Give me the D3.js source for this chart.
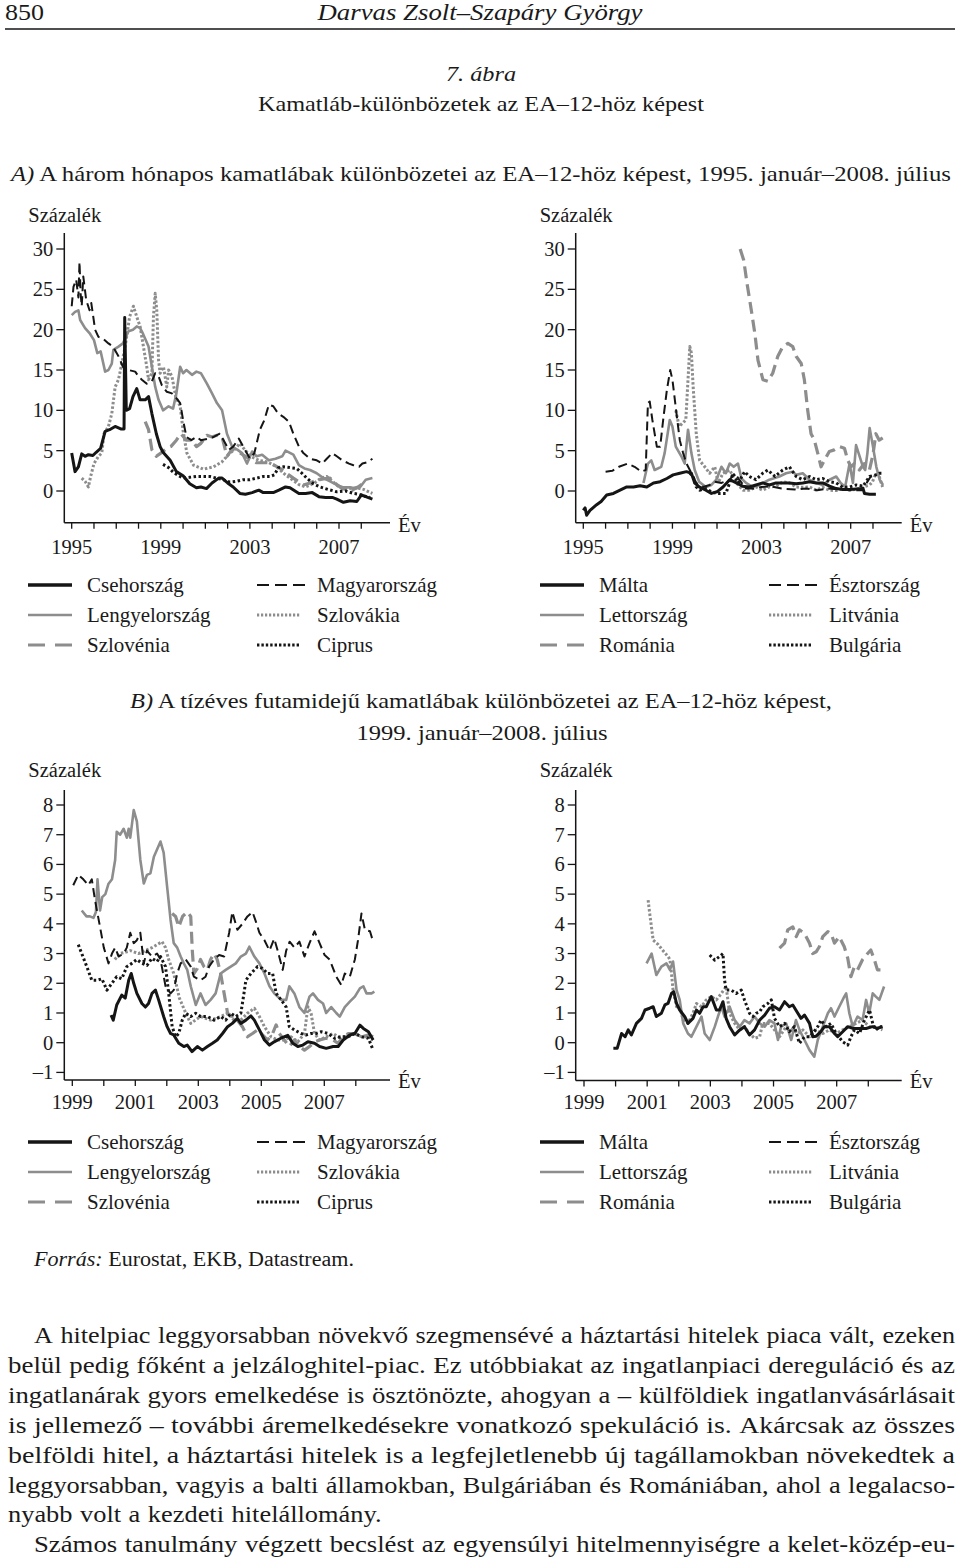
<!DOCTYPE html>
<html><head><meta charset="utf-8">
<script src="https://cdn.jsdelivr.net/npm/d3@7"></script>
<style>
body{margin:0;background:#fff}
svg{display:block}
text{font-family:"Liberation Serif","Times New Roman",serif;fill:#1a1a1a}
</style>
</head><body>
<svg id="c" width="960" height="1562"></svg>
<script>
// ---------- DATA (decimal year, percentage points) ----------
// A) 3-month rate differentials, left panel
const cz3m = [[1995.0,4.7],[1995.15,2.4],[1995.3,3.0],[1995.45,4.6],[1995.6,4.3],[1995.75,4.5],[1995.95,4.4],[1996.1,4.8],[1996.3,5.3],[1996.5,7.4],[1996.7,7.6],[1996.95,8.0],[1997.2,7.7],[1997.35,7.7],[1997.38,21.5],[1997.45,10.0],[1997.6,10.2],[1997.75,11.7],[1997.92,12.7],[1998.07,11.3],[1998.3,11.3],[1998.45,11.7],[1998.6,9.6],[1998.8,7.1],[1998.97,5.5],[1999.1,4.8],[1999.42,3.8],[1999.7,2.4],[2000.0,1.9],[2000.3,0.9],[2000.6,0.4],[2000.8,0.5],[2001.05,0.3],[2001.3,1.0],[2001.6,1.6],[2001.75,1.6],[2002.0,1.0],[2002.25,0.5],[2002.55,-0.3],[2002.8,-0.4],[2003.1,-0.2],[2003.4,0.1],[2003.6,-0.2],[2004.05,-0.2],[2004.3,0.1],[2004.6,0.5],[2004.8,0.4],[2005.2,-0.3],[2005.5,-0.3],[2005.8,-0.2],[2006.1,-0.7],[2006.4,-0.8],[2006.7,-0.8],[2006.9,-1.0],[2007.2,-1.4],[2007.5,-1.2],[2007.8,-1.3],[2008.0,-0.5],[2008.2,-0.7],[2008.5,-1.0]];
const hu3m = [[1995.0,22.9],[1995.08,25.3],[1995.2,26.2],[1995.3,24.0],[1995.35,28.4],[1995.4,24.5],[1995.45,22.9],[1995.52,26.6],[1995.65,23.7],[1995.8,22.4],[1995.88,23.3],[1996.05,20.0],[1996.2,19.1],[1996.4,18.9],[1996.65,18.3],[1996.85,17.9],[1997.1,16.7],[1997.3,15.4],[1997.55,15.0],[1997.85,14.8],[1998.0,14.2],[1998.15,13.8],[1998.37,13.3],[1998.6,13.6],[1998.75,14.6],[1998.9,14.2],[1999.05,13.1],[1999.27,12.3],[1999.5,12.1],[1999.65,11.7],[1999.87,10.9],[2000.0,8.8],[2000.15,6.7],[2000.37,6.3],[2000.6,6.7],[2000.8,6.3],[2001.15,6.5],[2001.37,6.7],[2001.65,7.1],[2001.9,5.9],[2002.05,5.1],[2002.25,5.5],[2002.5,6.5],[2002.7,5.5],[2003.0,4.0],[2003.2,4.7],[2003.45,7.6],[2003.65,8.8],[2003.85,10.7],[2004.05,10.5],[2004.27,9.6],[2004.5,9.2],[2004.75,8.6],[2004.95,7.1],[2005.2,5.5],[2005.4,4.7],[2005.7,4.0],[2006.0,3.8],[2006.25,3.4],[2006.45,4.0],[2006.7,4.7],[2006.9,4.3],[2007.15,3.8],[2007.45,3.4],[2007.65,3.2],[2007.9,3.0],[2008.05,3.4],[2008.3,3.6],[2008.5,4.0]];
const pl3m = [[1995.0,21.8],[1995.15,22.2],[1995.3,22.4],[1995.38,21.2],[1995.6,20.2],[1995.82,19.5],[1996.0,18.7],[1996.15,17.1],[1996.3,17.3],[1996.5,14.8],[1996.65,15.0],[1996.8,15.8],[1996.87,17.5],[1997.1,17.9],[1997.3,18.3],[1997.55,19.8],[1997.75,20.0],[1997.92,20.4],[1998.07,20.2],[1998.2,19.5],[1998.45,17.9],[1998.6,15.4],[1998.75,12.9],[1998.9,11.3],[1999.1,10.0],[1999.35,10.5],[1999.55,10.2],[1999.7,12.1],[1999.87,15.4],[2000.0,14.6],[2000.15,15.0],[2000.4,14.4],[2000.6,14.8],[2000.8,14.6],[2001.07,13.3],[2001.3,12.1],[2001.52,10.9],[2001.75,10.0],[2001.97,7.1],[2002.2,5.5],[2002.45,5.1],[2002.65,4.7],[2002.87,3.4],[2003.1,4.9],[2003.3,4.3],[2003.55,4.5],[2003.85,3.8],[2004.15,4.0],[2004.45,4.3],[2004.6,5.0],[2004.95,4.5],[2005.2,3.2],[2005.45,2.8],[2005.7,2.6],[2006.0,2.2],[2006.3,1.6],[2006.6,1.2],[2006.9,0.75],[2007.2,0.45],[2007.5,0.45],[2007.75,0.3],[2007.95,0.5],[2008.2,1.4],[2008.5,1.6]];
const si3m = [[1998.3,8.6],[1998.45,7.6],[1998.6,5.1],[1998.8,4.3],[1999.0,4.7],[1999.27,5.3],[1999.45,5.5],[1999.7,6.3],[1999.9,7.1],[2000.15,6.3],[2000.4,6.3],[2000.6,5.5],[2000.8,5.9],[2001.07,6.9],[2001.3,6.7],[2001.52,6.9],[2001.75,6.7],[2001.97,4.3],[2002.2,5.2],[2002.5,4.8],[2002.86,4.2],[2003.3,3.5],[2003.9,3.5],[2004.35,2.8],[2004.95,1.6],[2005.4,0.75],[2005.7,1.0],[2006.0,1.35],[2006.3,1.5],[2006.6,1.6],[2006.9,0.8],[2007.13,0.3],[2007.6,0.1],[2007.85,0.5],[2008.1,0.95]];
const sk3m = [[1995.45,1.6],[1995.6,1.2],[1995.75,0.5],[1995.85,1.8],[1996.0,3.4],[1996.2,4.3],[1996.35,4.7],[1996.45,7.1],[1996.65,8.0],[1996.8,9.6],[1996.95,12.9],[1997.1,13.8],[1997.25,15.8],[1997.4,17.9],[1997.6,21.6],[1997.77,22.9],[1997.92,21.6],[1998.07,20.4],[1998.22,17.9],[1998.37,15.4],[1998.45,13.8],[1998.6,14.6],[1998.67,21.6],[1998.75,24.5],[1998.82,22.4],[1998.9,16.2],[1998.97,14.6],[1999.12,15.4],[1999.27,12.9],[1999.35,15.0],[1999.5,14.2],[1999.67,11.7],[1999.87,10.5],[2000.0,7.5],[2000.17,4.7],[2000.47,3.2],[2000.92,2.7],[2001.37,3.0],[2001.74,3.6],[2002.1,4.7],[2002.3,5.1],[2002.55,5.9],[2002.8,5.0],[2003.1,4.2],[2003.4,3.8],[2003.8,3.6],[2004.2,3.0],[2004.6,2.0],[2004.9,1.4],[2005.2,0.8],[2005.5,0.5],[2005.9,1.0],[2006.2,1.6],[2006.45,1.8],[2006.7,1.2],[2007.0,0.5],[2007.4,0.3],[2007.8,0.4],[2008.1,0.2],[2008.5,-0.3]];
const cy3m = [[1999.1,3.3],[1999.35,2.9],[1999.57,2.3],[1999.8,1.9],[2000.0,1.6],[2000.3,1.7],[2000.6,1.8],[2000.9,1.8],[2001.2,1.8],[2001.5,1.6],[2001.8,1.4],[2002.1,1.1],[2002.4,1.2],[2002.7,1.4],[2003.0,1.4],[2003.3,1.6],[2003.6,1.8],[2003.9,1.8],[2004.1,2.0],[2004.28,2.9],[2004.5,3.0],[2004.8,2.9],[2005.1,2.8],[2005.3,2.3],[2005.55,1.6],[2005.85,0.9],[2006.15,0.5],[2006.5,0.2],[2006.9,-0.1],[2007.3,0.0],[2007.65,-0.3],[2007.9,-0.4],[2008.1,-0.6],[2008.4,-0.8]];
// A) right panel
const mt3m = [[1995.0,-2.4],[1995.08,-2.1],[1995.15,-3.0],[1995.3,-2.4],[1995.6,-1.7],[1995.8,-1.3],[1996.05,-0.5],[1996.35,-0.3],[1996.65,0.1],[1996.95,0.5],[1997.25,0.5],[1997.55,0.65],[1997.85,0.5],[1998.15,1.0],[1998.45,1.15],[1998.75,1.55],[1999.03,2.0],[1999.33,2.2],[1999.63,2.4],[1999.85,2.2],[2000.0,1.0],[2000.2,0.5],[2000.5,0.1],[2000.75,-0.3],[2001.0,-0.1],[2001.27,0.5],[2001.57,1.4],[2001.87,1.0],[2002.15,0.6],[2002.45,0.5],[2002.75,0.75],[2003.05,1.0],[2003.35,0.75],[2003.65,1.0],[2003.95,1.0],[2004.25,1.0],[2004.55,0.9],[2004.85,1.0],[2005.15,1.15],[2005.45,1.0],[2005.75,1.0],[2006.05,0.6],[2006.35,0.3],[2006.65,0.2],[2006.95,0.2],[2007.25,0.25],[2007.55,0.3],[2007.62,-0.3],[2007.85,-0.4],[2008.13,-0.4]];
const ee3m = [[1996.0,2.4],[1996.3,2.5],[1996.6,3.0],[1997.0,3.4],[1997.3,3.0],[1997.6,2.4],[1997.8,2.6],[1997.9,10.9],[1997.98,11.1],[1998.1,8.8],[1998.3,5.5],[1998.45,5.5],[1998.6,9.2],[1998.75,12.5],[1998.9,15.0],[1999.0,13.8],[1999.2,9.2],[1999.33,6.3],[1999.48,4.7],[1999.63,3.4],[1999.78,2.6],[1999.93,1.8],[2000.07,1.0],[2000.37,0.5],[2000.67,0.75],[2000.9,1.15],[2001.2,1.0],[2001.57,1.4],[2001.8,2.2],[2002.0,1.4],[2002.3,0.3],[2002.7,0.3],[2003.0,0.5],[2003.4,0.6],[2003.9,0.3],[2004.5,0.2],[2005.0,0.3],[2005.5,0.1],[2006.0,0.3],[2006.5,0.2],[2007.0,0.1],[2007.5,0.1],[2007.9,1.8],[2008.13,2.2]];
const lv3m = [[1997.7,1.0],[1997.9,3.4],[1998.05,3.8],[1998.2,2.6],[1998.5,3.0],[1998.65,4.7],[1998.88,8.8],[1999.0,8.0],[1999.15,5.5],[1999.4,4.3],[1999.55,3.4],[1999.7,7.6],[1999.85,4.7],[2000.0,2.6],[2000.2,1.15],[2000.5,0.5],[2000.75,0.75],[2000.97,1.4],[2001.2,3.0],[2001.4,2.2],[2001.57,3.4],[2001.75,3.0],[2001.94,3.4],[2002.1,1.55],[2002.3,1.0],[2002.6,0.5],[2002.9,0.75],[2003.35,1.4],[2003.8,1.8],[2004.1,2.2],[2004.4,2.4],[2004.55,2.0],[2004.85,2.2],[2005.15,1.4],[2005.45,1.0],[2005.75,0.75],[2006.05,1.4],[2006.35,1.8],[2006.55,1.0],[2006.75,0.5],[2006.95,3.4],[2007.1,1.0],[2007.24,5.7],[2007.4,4.3],[2007.55,3.0],[2007.65,2.6],[2007.75,4.7],[2007.85,7.8],[2008.0,5.5],[2008.15,3.0],[2008.3,1.4],[2008.45,0.75]];
const lt3m = [[1999.15,10.0],[1999.3,8.0],[1999.45,8.4],[1999.6,8.8],[1999.78,17.9],[1999.85,17.1],[1999.93,12.9],[2000.07,7.1],[2000.22,3.8],[2000.45,3.0],[2000.67,2.2],[2000.9,3.0],[2001.05,1.0],[2001.27,2.2],[2001.57,2.6],[2001.87,1.0],[2002.17,0.1],[2002.45,0.1],[2002.75,0.5],[2003.05,0.1],[2003.35,0.5],[2003.65,0.6],[2003.95,1.15],[2004.25,1.0],[2004.55,0.5],[2004.85,0.45],[2005.15,0.5],[2005.45,0.1],[2005.75,0.45],[2006.05,0.1],[2006.35,0.05],[2006.65,0.3],[2006.95,0.1],[2007.25,0.2],[2007.55,0.5],[2007.85,0.75],[2007.98,1.15],[2008.13,2.2],[2008.28,1.8],[2008.43,0.5]];
const ro3m = [[2002.04,30.0],[2002.2,28.6],[2002.35,25.7],[2002.54,22.4],[2002.7,19.5],[2002.84,16.2],[2002.95,15.0],[2003.06,13.8],[2003.28,13.6],[2003.5,14.6],[2003.73,16.7],[2003.95,17.9],[2004.18,18.3],[2004.4,17.9],[2004.55,16.7],[2004.78,15.8],[2004.92,13.8],[2005.07,10.0],[2005.22,7.1],[2005.37,6.3],[2005.52,4.7],[2005.67,3.0],[2005.82,3.8],[2006.04,4.9],[2006.26,5.1],[2006.49,5.5],[2006.72,5.3],[2006.87,3.8],[2007.01,3.0],[2007.16,3.4],[2007.39,2.6],[2007.61,3.4],[2007.84,2.6],[2008.0,4.5],[2008.13,7.1],[2008.28,6.3],[2008.5,6.7]];
const bg3m = [[1999.78,2.2],[1999.93,1.8],[2000.07,0.5],[2000.22,0.1],[2000.5,0.3],[2000.75,-0.1],[2001.0,-0.3],[2001.4,-0.3],[2001.72,2.2],[2001.95,1.0],[2002.24,2.4],[2002.45,1.8],[2002.75,1.4],[2003.05,2.2],[2003.28,2.6],[2003.6,1.8],[2003.95,2.6],[2004.25,3.0],[2004.55,1.8],[2004.85,1.4],[2005.15,1.8],[2005.45,1.4],[2005.75,1.55],[2006.05,1.15],[2006.35,1.0],[2006.65,0.45],[2006.95,0.5],[2007.25,0.75],[2007.55,0.6],[2007.85,1.8],[2008.13,2.0],[2008.28,2.2],[2008.45,2.2]];
// B) 10-year yield differentials, left panel
const cz10 = [[2000.23,0.93],[2000.3,0.76],[2000.41,1.27],[2000.57,1.6],[2000.68,1.5],[2000.79,2.1],[2000.87,2.33],[2000.95,2.0],[2001.05,1.66],[2001.21,1.32],[2001.32,1.2],[2001.42,1.32],[2001.53,1.66],[2001.64,1.77],[2001.74,1.44],[2001.9,0.88],[2002.01,0.54],[2002.12,0.31],[2002.22,0.26],[2002.38,-0.02],[2002.54,-0.13],[2002.65,-0.08],[2002.8,-0.3],[2002.97,-0.13],[2003.13,-0.25],[2003.29,-0.13],[2003.45,-0.02],[2003.6,0.09],[2003.77,0.31],[2003.93,0.54],[2004.08,0.65],[2004.24,0.82],[2004.35,0.65],[2004.51,0.76],[2004.67,0.9],[2004.78,0.76],[2004.94,0.43],[2005.1,0.09],[2005.26,-0.08],[2005.41,0.03],[2005.62,0.15],[2005.84,0.25],[2006.0,-0.02],[2006.16,-0.13],[2006.32,-0.08],[2006.48,0.03],[2006.69,-0.02],[2006.85,-0.13],[2007.06,-0.19],[2007.28,-0.13],[2007.44,-0.13],[2007.6,0.09],[2007.81,0.26],[2007.97,0.31],[2008.13,0.59],[2008.24,0.48],[2008.4,0.37],[2008.55,0.09]];
const hu10 = [[1999.03,5.3],[1999.19,5.65],[1999.35,5.5],[1999.51,5.3],[1999.62,5.5],[1999.72,4.8],[1999.88,3.9],[2000.0,3.2],[2000.15,2.67],[2000.26,3.0],[2000.36,3.2],[2000.47,2.9],[2000.63,3.0],[2000.73,3.2],[2000.84,3.7],[2000.95,3.35],[2001.05,3.45],[2001.16,3.7],[2001.27,2.67],[2001.37,3.1],[2001.53,2.9],[2001.69,3.0],[2001.8,2.8],[2001.96,1.9],[2002.12,1.66],[2002.22,1.77],[2002.33,2.33],[2002.44,2.67],[2002.6,2.8],[2002.76,2.56],[2002.86,2.22],[2003.07,2.1],[2003.23,2.22],[2003.34,2.56],[2003.5,2.8],[2003.66,2.95],[2003.82,2.9],[2003.98,3.7],[2004.08,4.4],[2004.24,3.8],[2004.4,4.0],[2004.56,4.25],[2004.72,4.4],[2004.82,4.1],[2004.94,3.7],[2005.1,3.45],[2005.26,3.1],[2005.41,3.5],[2005.52,3.1],[2005.68,2.45],[2005.79,3.1],[2005.9,3.4],[2006.05,3.2],[2006.21,3.4],[2006.37,2.9],[2006.53,3.35],[2006.69,3.75],[2006.85,3.35],[2007.01,2.95],[2007.17,2.8],[2007.38,2.22],[2007.54,1.94],[2007.65,2.33],[2007.81,2.22],[2007.97,2.8],[2008.07,3.45],[2008.18,4.35],[2008.29,3.8],[2008.45,3.75],[2008.55,3.4]];
const pl10 = [[1999.3,4.45],[1999.45,4.25],[1999.56,4.25],[1999.67,4.2],[1999.75,4.4],[1999.8,5.5],[1999.88,4.45],[1999.95,4.9],[2000.05,5.0],[2000.15,5.35],[2000.26,5.5],[2000.36,6.15],[2000.41,7.1],[2000.52,7.0],[2000.63,7.2],[2000.73,6.9],[2000.79,7.2],[2000.84,6.9],[2000.95,7.83],[2001.05,7.45],[2001.16,6.15],[2001.27,5.36],[2001.37,5.65],[2001.48,5.7],[2001.59,6.26],[2001.69,6.5],[2001.8,6.77],[2001.9,6.4],[2002.01,5.25],[2002.12,4.13],[2002.22,3.35],[2002.33,3.2],[2002.44,2.9],[2002.54,2.67],[2002.65,2.45],[2002.76,1.9],[2002.92,1.27],[2003.07,1.66],[2003.23,1.27],[2003.39,1.44],[2003.55,1.66],[2003.71,2.33],[2003.87,2.45],[2004.03,2.56],[2004.19,2.67],[2004.35,2.9],[2004.51,3.0],[2004.62,3.23],[2004.78,2.9],[2004.94,2.67],[2005.1,2.33],[2005.26,1.9],[2005.41,1.66],[2005.63,1.44],[2005.79,1.44],[2005.89,1.9],[2006.05,1.66],[2006.21,1.2],[2006.37,1.0],[2006.53,1.55],[2006.64,1.66],[2006.8,1.44],[2006.96,1.32],[2007.06,1.0],[2007.22,1.2],[2007.38,1.0],[2007.49,0.88],[2007.65,1.2],[2007.81,1.38],[2007.97,1.55],[2008.13,1.83],[2008.24,1.9],[2008.34,1.66],[2008.5,1.66],[2008.59,1.72]];
const si10 = [[2002.17,4.35],[2002.28,4.25],[2002.38,3.9],[2002.5,4.25],[2002.65,4.4],[2002.76,4.25],[2002.81,3.1],[2002.86,2.33],[2002.97,2.5],[2003.07,2.8],[2003.18,2.56],[2003.29,2.45],[2003.39,2.8],[2003.5,3.0],[2003.6,2.8],[2003.71,2.33],[2003.82,1.66],[2003.93,0.99],[2004.08,0.88],[2004.24,0.76],[2004.4,0.54],[2004.56,0.2],[2004.72,0.31],[2004.88,0.43],[2005.04,0.26],[2005.2,0.09],[2005.36,0.31],[2005.47,0.6],[2005.57,0.31],[2005.73,0.09],[2005.89,-0.13],[2006.05,0.09],[2006.21,-0.13],[2006.37,-0.25],[2006.53,-0.13],[2006.69,0.03],[2006.85,0.09],[2007.06,0.15],[2007.28,0.09],[2007.44,-0.02],[2007.6,0.2],[2007.76,0.31],[2007.97,0.31],[2008.18,0.2],[2008.4,0.26],[2008.55,0.2]];
const sk10 = [[2000.35,2.8],[2000.5,3.0],[2000.7,3.05],[2000.84,3.1],[2001.1,3.0],[2001.32,3.1],[2001.53,3.2],[2001.69,3.3],[2001.85,3.4],[2001.96,3.2],[2002.06,2.8],[2002.22,2.33],[2002.4,1.5],[2002.6,1.0],[2002.76,0.65],[2003.07,0.88],[2003.39,0.76],[2003.71,0.88],[2003.93,0.99],[2004.14,0.76],[2004.35,0.76],[2004.56,0.99],[2004.78,1.16],[2004.94,0.88],[2005.1,0.54],[2005.31,0.2],[2005.52,0.09],[2005.73,0.09],[2005.94,0.2],[2006.16,0.03],[2006.37,0.31],[2006.48,1.21],[2006.58,0.99],[2006.69,0.31],[2006.85,0.09],[2007.06,0.2],[2007.28,0.31],[2007.44,0.2],[2007.6,0.2],[2007.81,0.26],[2007.97,0.31],[2008.18,0.2],[2008.4,0.2],[2008.55,0.09]];
const cy10 = [[1999.19,3.3],[1999.46,2.56],[1999.62,2.1],[1999.78,2.1],[1999.94,2.15],[2000.1,1.77],[2000.26,2.0],[2000.41,2.22],[2000.57,2.15],[2000.73,2.56],[2000.89,2.67],[2001.05,2.8],[2001.21,2.67],[2001.37,2.6],[2001.53,2.84],[2001.69,2.73],[2001.8,2.9],[2001.96,2.56],[2002.06,1.66],[2002.17,0.54],[2002.28,0.2],[2002.38,0.31],[2002.49,0.76],[2002.6,0.99],[2002.76,0.88],[2002.92,0.99],[2003.07,0.88],[2003.29,0.88],[2003.5,0.76],[2003.71,0.88],[2003.87,0.76],[2004.03,0.99],[2004.19,0.88],[2004.35,0.99],[2004.45,1.66],[2004.51,2.1],[2004.67,2.33],[2004.88,2.56],[2005.04,2.5],[2005.2,2.33],[2005.36,2.33],[2005.47,1.66],[2005.63,1.44],[2005.79,1.2],[2005.89,0.54],[2006.05,0.43],[2006.26,0.31],[2006.42,0.26],[2006.58,0.31],[2006.74,0.31],[2006.9,0.37],[2007.12,0.31],[2007.33,0.15],[2007.54,0.2],[2007.76,0.2],[2007.97,0.31],[2008.18,0.2],[2008.4,0.15],[2008.55,-0.25]];
// B) right panel
const mt10 = [[1999.93,-0.19],[2000.05,-0.19],[2000.19,0.31],[2000.3,0.2],[2000.4,0.43],[2000.5,0.26],[2000.66,0.65],[2000.82,0.82],[2000.93,1.1],[2001.08,1.16],[2001.19,1.21],[2001.29,0.88],[2001.45,0.99],[2001.56,1.27],[2001.66,1.32],[2001.77,1.66],[2001.84,1.72],[2001.93,1.32],[2002.03,1.1],[2002.19,0.88],[2002.29,0.65],[2002.45,0.82],[2002.56,1.1],[2002.66,0.99],[2002.77,1.21],[2002.87,1.21],[2003.03,1.55],[2003.19,1.1],[2003.29,1.1],[2003.4,1.38],[2003.5,0.82],[2003.61,0.54],[2003.77,0.26],[2003.93,0.43],[2004.08,0.54],[2004.24,0.26],[2004.4,0.43],[2004.56,0.76],[2004.72,0.93],[2004.87,1.16],[2005.03,1.21],[2005.19,1.1],[2005.35,1.38],[2005.5,1.21],[2005.61,1.27],[2005.77,0.99],[2005.87,0.82],[2005.98,0.93],[2006.14,0.65],[2006.24,0.2],[2006.35,0.22],[2006.5,0.37],[2006.61,0.54],[2006.77,0.54],[2006.93,0.31],[2007.03,0.2],[2007.19,0.37],[2007.35,0.54],[2007.51,0.48],[2007.72,0.48],[2007.93,0.48],[2008.13,0.54],[2008.29,0.48],[2008.45,0.54]];
const ee10 = []; // Észtország: no 10-year series
const lv10 = [[2000.98,2.67],[2001.14,3.0],[2001.29,2.28],[2001.45,2.56],[2001.61,2.67],[2001.72,2.45],[2001.82,2.73],[2001.93,1.77],[2002.03,1.44],[2002.14,0.65],[2002.29,0.31],[2002.4,0.2],[2002.56,0.54],[2002.72,0.88],[2002.82,0.31],[2002.98,0.09],[2003.14,0.54],[2003.24,0.88],[2003.35,1.21],[2003.45,0.88],[2003.61,1.21],[2003.77,0.76],[2003.93,0.54],[2004.08,0.76],[2004.24,0.65],[2004.4,0.88],[2004.56,0.65],[2004.72,0.54],[2004.87,0.76],[2005.03,0.65],[2005.14,0.09],[2005.24,0.54],[2005.4,0.65],[2005.56,0.09],[2005.71,0.76],[2005.82,0.43],[2005.98,0.09],[2006.14,-0.25],[2006.29,-0.47],[2006.4,0.09],[2006.56,0.54],[2006.72,0.99],[2006.82,1.16],[2006.93,0.88],[2007.08,1.21],[2007.24,1.55],[2007.3,1.66],[2007.4,0.99],[2007.51,0.54],[2007.66,0.88],[2007.82,0.76],[2007.93,1.44],[2008.03,0.99],[2008.14,1.66],[2008.24,1.55],[2008.35,1.44],[2008.5,1.89]];
const lt10 = [[2001.03,4.8],[2001.08,4.35],[2001.19,3.45],[2001.35,3.3],[2001.5,3.1],[2001.66,2.9],[2001.72,2.8],[2001.77,2.33],[2001.82,1.77],[2001.93,1.21],[2002.03,1.21],[2002.14,0.76],[2002.29,0.65],[2002.45,0.99],[2002.56,1.32],[2002.72,1.21],[2002.87,1.44],[2003.03,1.55],[2003.19,1.44],[2003.35,1.66],[2003.5,1.89],[2003.61,0.99],[2003.77,0.65],[2003.93,0.43],[2004.08,0.54],[2004.24,0.31],[2004.4,0.15],[2004.56,0.2],[2004.66,0.65],[2004.87,0.65],[2005.03,0.43],[2005.19,0.2],[2005.4,0.54],[2005.61,0.43],[2005.77,0.31],[2005.93,0.43],[2006.14,0.2],[2006.35,0.43],[2006.56,0.31],[2006.77,0.43],[2006.98,0.31],[2007.19,0.43],[2007.4,0.54],[2007.61,0.65],[2007.82,0.76],[2008.03,0.54],[2008.24,0.54],[2008.45,0.43]];
const ro10 = [[2005.19,3.18],[2005.35,3.35],[2005.45,3.8],[2005.61,3.9],[2005.72,3.57],[2005.82,3.8],[2005.98,3.68],[2006.14,3.35],[2006.24,3.0],[2006.35,3.06],[2006.45,3.23],[2006.56,3.57],[2006.72,3.74],[2006.82,3.68],[2006.93,3.35],[2007.08,3.57],[2007.24,3.23],[2007.35,2.84],[2007.45,2.22],[2007.56,2.56],[2007.66,2.45],[2007.82,2.8],[2007.98,3.0],[2008.08,3.12],[2008.19,2.8],[2008.29,2.45],[2008.4,2.45],[2008.5,2.56]];
const bg10 = [[2002.98,2.95],[2003.14,2.78],[2003.29,2.9],[2003.4,3.0],[2003.45,2.1],[2003.5,1.77],[2003.66,1.77],[2003.82,1.66],[2003.98,1.77],[2004.08,1.44],[2004.24,0.99],[2004.35,0.88],[2004.45,0.99],[2004.56,1.04],[2004.66,1.21],[2004.82,1.32],[2004.93,1.44],[2005.03,0.82],[2005.19,0.54],[2005.35,0.65],[2005.5,0.37],[2005.66,0.54],[2005.82,-0.02],[2005.98,0.2],[2006.14,0.2],[2006.24,0.31],[2006.4,0.54],[2006.5,0.76],[2006.66,0.54],[2006.82,0.65],[2006.98,0.31],[2007.19,0.03],[2007.35,-0.08],[2007.45,0.2],[2007.56,0.43],[2007.72,0.31],[2007.88,0.76],[2008.04,1.1],[2008.14,0.65],[2008.24,0.43],[2008.35,0.54],[2008.45,0.54]];

// tick labels and names
const yTicksA = [0,5,10,15,20,25,30];
const yTicksB = [-1,0,1,2,3,4,5,6,7,8];
const xLabelsA = [1995,1999,2003,2007];
const xLabelsB = [1999,2001,2003,2005,2007];
const namesLeft = ["Csehország","Lengyelország","Szlovénia","Magyarország","Szlovákia","Ciprus"];
const namesRight = ["Málta","Lettország","Románia","Észtország","Litvánia","Bulgária"];

// ---------- STYLES ----------
const BLACK="#151515", GRAY="#8d8d8d";
const styles = {
  solidBlack:{c:BLACK,w:3,d:null},
  solidGray:{c:GRAY,w:2.6,d:null},
  dashGray:{c:GRAY,w:3.2,d:"12,6"},
  dashBlack:{c:BLACK,w:2,d:"9,5"},
  dotGray:{c:GRAY,w:3,d:"2.5,2"},
  dotBlack:{c:BLACK,w:3,d:"2.5,2.5"}
};
const styleOrder = ["solidBlack","solidGray","dashGray","dashBlack","dotGray","dotBlack"];
const drawOrder = ["dashGray","dotGray","solidGray","dashBlack","dotBlack","solidBlack"];

const svg = d3.select("#c");
const FONT = 20.5;

function txt(x,y,s,o={}){
  const t = svg.append("text").attr("x",x).attr("y",y)
    .style("font-size",(o.size||FONT)+"px")
    .attr("text-anchor",o.anchor||"start");
  if(o.italic) t.style("font-style","italic");
  if(Array.isArray(s)){
    s.forEach(p=>{const ts=t.append("tspan").text(p[0]); if(p[1]) ts.style("font-style","italic");});
  } else t.text(s);
  if(o.width) t.attr("textLength",o.width).attr("lengthAdjust","spacingAndGlyphs");
  return t;
}

// ---------- PANELS ----------
const panels = [
  {ax:64.3, xEnd:390, yTop:233, yBot:522.7, xd:[1995,2007], xr:[71.7,339], yd:[0,30], yr:[491,249],
   yTicks:yTicksA, xTicks:d3.range(1995,2009), xLabels:xLabelsA, labY:554, evY:532, pctY:222,
   series:[cz3m,pl3m,si3m,hu3m,sk3m,cy3m]},
  {ax:575.7, xEnd:901.7, yTop:233, yBot:522.7, xd:[1995,2007], xr:[583.3,850.7], yd:[0,30], yr:[491,249],
   yTicks:yTicksA, xTicks:d3.range(1995,2009), xLabels:xLabelsA, labY:554, evY:532, pctY:222,
   series:[mt3m,lv3m,ro3m,ee3m,lt3m,bg3m]},
  {ax:64.3, xEnd:390, yTop:790, yBot:1080, xd:[1999,2007], xr:[72.3,324.3], yd:[0,8], yr:[1042.7,805],
   yTicks:yTicksB, xTicks:d3.range(1999,2009), xLabels:xLabelsB, labY:1109, evY:1088, pctY:777,
   series:[cz10,pl10,si10,hu10,sk10,cy10]},
  {ax:575.7, xEnd:901.7, yTop:790, yBot:1080.5, xd:[1999,2007], xr:[584,836.7], yd:[0,8], yr:[1042.7,805],
   yTicks:yTicksB, xTicks:d3.range(1999,2009), xLabels:xLabelsB, labY:1109, evY:1088, pctY:777,
   series:[mt10,lv10,ro10,ee10,lt10,bg10]}
];

panels.forEach(p=>{
  const x = d3.scaleLinear().domain(p.xd).range(p.xr);
  const y = d3.scaleLinear().domain(p.yd).range(p.yr);
  const g = svg.append("g");
  g.append("line").attr("x1",p.ax).attr("x2",p.ax).attr("y1",p.yTop).attr("y2",p.yBot)
    .attr("stroke",BLACK).attr("stroke-width",1.5);
  g.append("line").attr("x1",p.ax).attr("x2",p.xEnd).attr("y1",p.yBot).attr("y2",p.yBot)
    .attr("stroke",BLACK).attr("stroke-width",1.5);
  p.yTicks.forEach(v=>{
    g.append("line").attr("x1",p.ax-8).attr("x2",p.ax).attr("y1",y(v)).attr("y2",y(v))
      .attr("stroke",BLACK).attr("stroke-width",1.3);
    txt(p.ax-11, y(v)+7, v<0 ? "\u2013"+Math.abs(v) : String(v), {anchor:"end"});
  });
  p.xTicks.forEach(t=>{
    g.append("line").attr("x1",x(t)).attr("x2",x(t)).attr("y1",p.yBot).attr("y2",p.yBot+6)
      .attr("stroke",BLACK).attr("stroke-width",1.3);
  });
  p.xLabels.forEach(t=> txt(x(t), p.labY, String(t), {anchor:"middle"}));
  txt(p.ax-36, p.pctY, "Százalék");
  txt(p.xEnd+8, p.evY, "Év");
  const line = d3.line().x(d=>x(d[0])).y(d=>y(d[1]));
  drawOrder.forEach(sn=>{
    const idx = styleOrder.indexOf(sn);
    const data = p.series[idx];
    if(!data || !data.length) return;
    const st = styles[sn];
    g.append("path").datum(data).attr("d",line).attr("fill","none")
      .attr("stroke",st.c).attr("stroke-width",st.w)
      .attr("stroke-dasharray",st.d).attr("stroke-linejoin","round");
  });
});

// ---------- LEGENDS ----------
function legend(x0, rowY, names){
  const cols = [{lx:x0, text:x0+59},{lx:x0+229, text:x0+289}];
  names.forEach((n,i)=>{
    const col = cols[Math.floor(i/3)], r = i%3, yy = rowY + r*30;
    const st = styles[styleOrder[i]];
    let len = 44, dash = st.d;
    if(styleOrder[i]==="dashGray") dash="17,10";
    if(styleOrder[i]==="dashBlack"){ len=48; dash="12,6"; }
    if(styleOrder[i]==="dotGray") dash="2.2,1.8";
    if(styleOrder[i]==="dotBlack") dash="2.4,2";
    svg.append("line").attr("x1",col.lx).attr("x2",col.lx+len).attr("y1",yy).attr("y2",yy)
      .attr("stroke",st.c).attr("stroke-width", st.w*(styleOrder[i]==="solidBlack"?1.15:1)).attr("stroke-dasharray",dash);
    txt(col.text, yy+7, n, {size:21});
  });
}
legend(28, 585, namesLeft);
legend(540, 585, namesRight);
legend(28, 1142, namesLeft);
legend(540, 1142, namesRight);

// ---------- PAGE TEXT ----------
txt(5, 20, "850", {size:23, width:39});
txt(480, 20, "Darvas Zsolt–Szapáry György", {size:24, anchor:"middle", italic:true, width:325});
svg.append("line").attr("x1",5).attr("x2",955).attr("y1",29).attr("y2",29).attr("stroke",BLACK).attr("stroke-width",1.4);
txt(481, 81, "7. ábra", {size:22, anchor:"middle", italic:true, width:70});
txt(481, 111, "Kamatláb-különbözetek az EA–12-höz képest", {size:22, anchor:"middle", width:446});
txt(481, 181, [["A)",true],[" A három hónapos kamatlábak különbözetei az EA–12-höz képest, 1995. január–2008. július",false]], {size:22, anchor:"middle", width:940});
txt(481, 708, [["B)",true],[" A tízéves futamidejű kamatlábak különbözetei az EA–12-höz képest,",false]], {size:22, anchor:"middle", width:702});
txt(482, 740, "1999. január–2008. július", {size:22, anchor:"middle", width:251});
txt(34, 1266, [["Forrás:",true],[" Eurostat, EKB, Datastream.",false]], {size:20.5, width:320});

const bodyLines = [
  {s:"A hitelpiac leggyorsabban növekvő szegmensévé a háztartási hitelek piaca vált, ezeken", x0:34, j:true},
  {s:"belül pedig főként a jelzáloghitel-piac. Ez utóbbiakat az ingatlanpiaci dereguláció és az", x0:8, j:true},
  {s:"ingatlanárak gyors emelkedése is ösztönözte, ahogyan a – külföldiek ingatlanvásárlásait", x0:8, j:true},
  {s:"is jellemező – további áremelkedésekre vonatkozó spekuláció is. Akárcsak az összes", x0:8, j:true},
  {s:"belföldi hitel, a háztartási hitelek is a legfejletlenebb új tagállamokban növekedtek a", x0:8, j:true},
  {s:"leggyorsabban, vagyis a balti államokban, Bulgáriában és Romániában, ahol a legalacso-", x0:8, j:true},
  {s:"nyabb volt a kezdeti hitelállomány.", x0:8, j:false},
  {s:"Számos tanulmány végzett becslést az egyensúlyi hitelmennyiségre a kelet-közép-eu-", x0:34, j:true}
];
const BODY = 24;
const GAP = 7.5;
bodyLines.forEach((L,i)=>{
  const base = 1343 + i*29.9;
  const words = L.s.split(" ");
  const els = words.map(w=> svg.append("text").attr("y",base).style("font-size",BODY+"px").text(w));
  const widths = els.map(e=>e.node().getComputedTextLength());
  const total = d3.sum(widths);
  const x1 = 955;
  let scale, gap;
  if(L.j){
    scale = Math.min(1.22, (x1 - L.x0 - GAP*(words.length-1))/total);
    gap = (x1 - L.x0 - total*scale)/(words.length-1);
  } else { scale = 1.1; gap = GAP; }
  let xx = L.x0;
  els.forEach((e,k)=>{
    e.attr("x",xx).attr("textLength",widths[k]*scale).attr("lengthAdjust","spacingAndGlyphs");
    xx += widths[k]*scale + gap;
  });
});
</script>
</body></html>
